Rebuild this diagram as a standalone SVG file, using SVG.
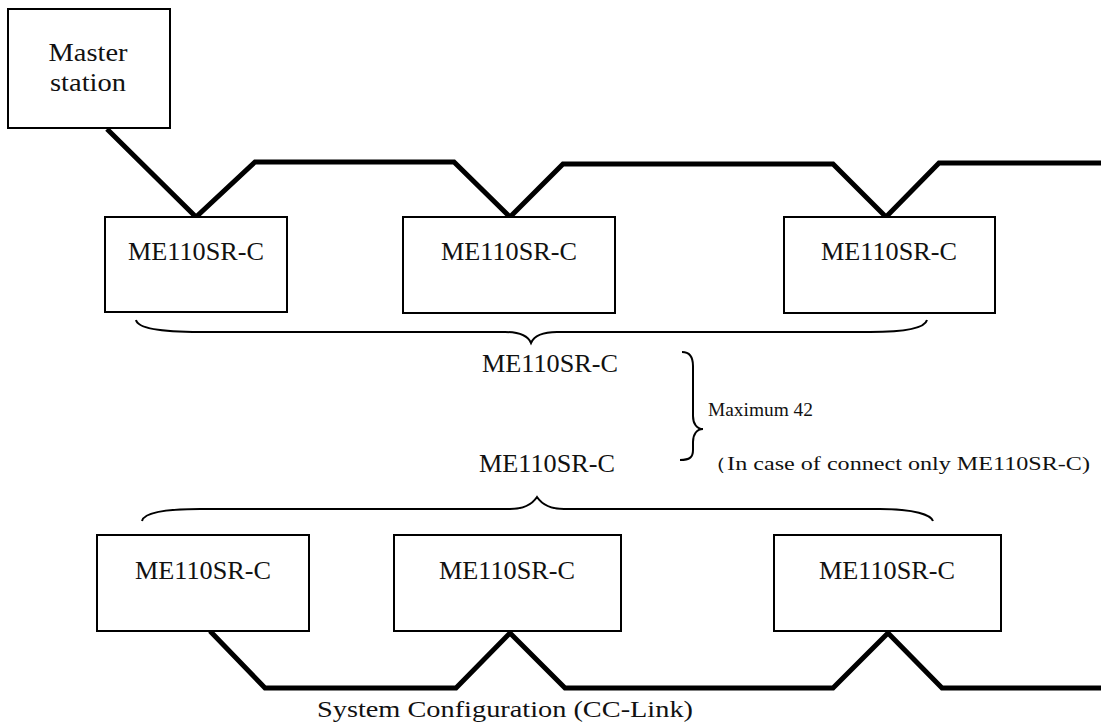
<svg xmlns="http://www.w3.org/2000/svg" width="1101" height="727" viewBox="0 0 1101 727">
<style>
.box{fill:#fff;stroke:#000;stroke-width:2}
.t{font-family:"Liberation Serif",serif;font-size:25px;fill:#111;text-anchor:middle}
.s{font-family:"Liberation Serif",serif;font-size:18px;fill:#111}
.cap{font-family:"Liberation Serif",serif;font-size:24px;fill:#111}
.cable{fill:none;stroke:#000;stroke-width:5;stroke-linejoin:miter}
.brace{fill:none;stroke:#000;stroke-width:2}
</style>
<rect width="1101" height="727" fill="#fff"/>
<g id="connectors">
<polyline class="cable" points="107,129 196,217 255,162 454,162 510,217 563,164 833,164 886,217 939,163 1101,163"/>
<polyline class="cable" points="210,631 265,688 456,688 510,633 565,688 833,688 888,633 942,688 1101,688"/>
</g>
<g id="master">
<rect class="box" x="8" y="9" width="162" height="119"/>
<text class="t" x="88" y="61" textLength="79" lengthAdjust="spacingAndGlyphs">Master</text>
<text class="t" x="88" y="91" textLength="76" lengthAdjust="spacingAndGlyphs">station</text>
</g>
<g id="slave1">
<rect class="box" x="105" y="217" width="182" height="95"/>
<text class="t" x="196" y="260" textLength="136" lengthAdjust="spacingAndGlyphs">ME110SR-C</text>
</g>
<g id="slave2">
<rect class="box" x="403" y="217" width="212" height="96"/>
<text class="t" x="509" y="260" textLength="136" lengthAdjust="spacingAndGlyphs">ME110SR-C</text>
</g>
<g id="slave3">
<rect class="box" x="784" y="217" width="211" height="96"/>
<text class="t" x="889" y="260" textLength="136" lengthAdjust="spacingAndGlyphs">ME110SR-C</text>
</g>
<g id="slave4">
<rect class="box" x="97" y="535" width="212" height="96"/>
<text class="t" x="203" y="579" textLength="136" lengthAdjust="spacingAndGlyphs">ME110SR-C</text>
</g>
<g id="slave5">
<rect class="box" x="394" y="535" width="227" height="96"/>
<text class="t" x="507" y="579" textLength="136" lengthAdjust="spacingAndGlyphs">ME110SR-C</text>
</g>
<g id="slave6">
<rect class="box" x="774" y="535" width="227" height="96"/>
<text class="t" x="887" y="579" textLength="136" lengthAdjust="spacingAndGlyphs">ME110SR-C</text>
</g>
<g id="braces">
<path class="brace" d="M136,320 C138,330 170,332 200,332 L505,332 C520,332 528,336 531,343 C534,336 542,332 557,332 L870,332 C905,332 925,328 927,320"/>
<path class="brace" d="M142,521 C144,512 170,509 200,509 L510,509 C525,509 533,503 537,497 C541,503 549,509 564,509 L880,509 C915,509 931,515 933,521"/>
<path class="brace" d="M682,352 C690,352 693,357 693,366 L693,416 C693,424 697,429 703,429 C697,429 693,434 693,442 L693,450 C693,457 690,460 680,460"/>
</g>
<g id="labels">
<text class="t" x="550" y="372" textLength="136" lengthAdjust="spacingAndGlyphs">ME110SR-C</text>
<text class="t" x="547" y="472" textLength="136" lengthAdjust="spacingAndGlyphs">ME110SR-C</text>
<text class="s" x="708" y="416" textLength="105" lengthAdjust="spacingAndGlyphs">Maximum 42</text>
<text class="s" x="703" y="470" textLength="387" lengthAdjust="spacingAndGlyphs">（In case of connect only ME110SR-C)</text>
<text class="cap" x="317" y="717" textLength="376" lengthAdjust="spacingAndGlyphs">System Configuration (CC-Link)</text>
</g>
</svg>
